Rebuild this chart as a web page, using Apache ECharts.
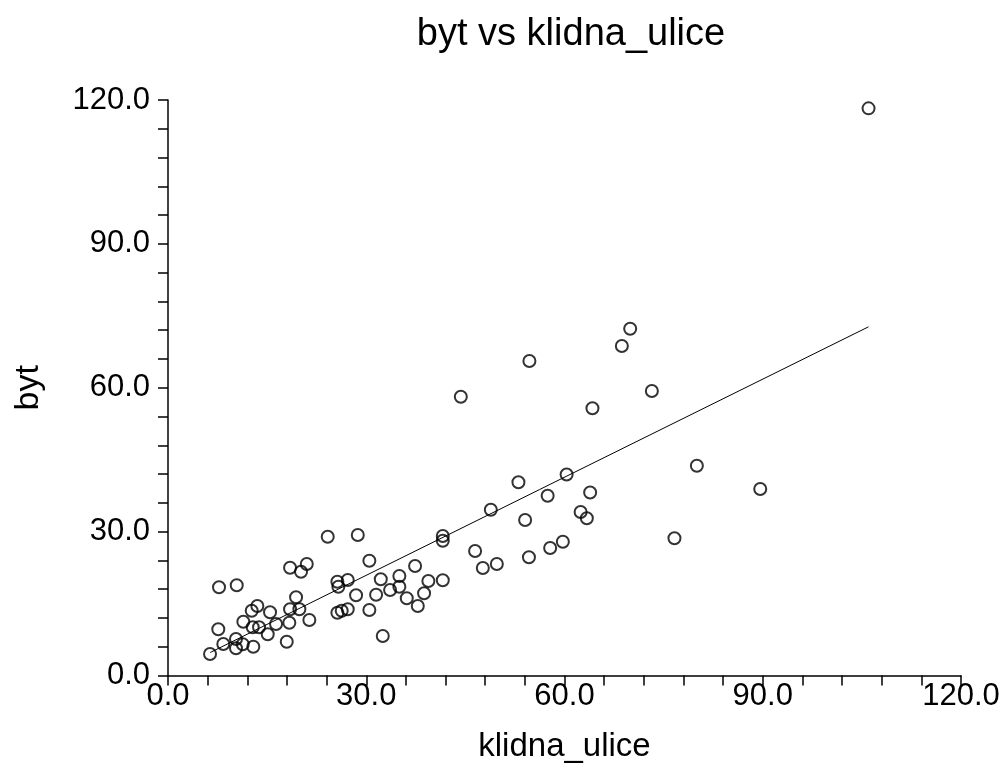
<!DOCTYPE html>
<html>
<head>
<meta charset="utf-8">
<script src="https://cdn.jsdelivr.net/npm/echarts@6/dist/echarts.min.js"></script>
<style>
html,body{margin:0;padding:0;background:#fff;}
#chart{width:1002px;height:771px;}
</style>
</head>
<body>
<div id="chart"></div>
<script>
// klidna_ulice (x) values
var klidnaUlice = [
  6.36, 7.61, 7.72, 8.37, 10.40, 10.29, 10.29, 11.31, 11.40, 12.67,
  13.52, 12.82, 12.91, 13.78, 15.09, 15.44, 16.35, 17.97, 18.36, 18.47,
  18.47, 19.38, 19.88, 20.13, 21.00, 21.39, 24.17, 25.63, 25.78, 25.63,
  26.29, 27.20, 27.20, 28.72, 28.46, 30.47, 30.47, 31.49, 32.20, 32.50,
  33.61, 35.01, 35.01, 36.13, 37.39, 37.80, 38.75, 39.40, 41.58, 41.58,
  41.58, 44.31, 54.69, 68.68, 69.94, 73.22, 64.23, 80.03, 89.62, 76.64,
  60.32, 53.03, 57.45, 63.88, 48.85, 62.44, 63.38, 54.04, 59.75, 57.83,
  46.47, 54.62, 49.76, 47.64, 106.01
];
// byt (y) values
var byt = [
  4.48, 9.63, 18.39, 6.57, 18.81, 7.61, 5.67, 6.51, 11.22, 13.51,
  14.49, 10.05, 6.00, 10.05, 8.59, 13.18, 10.74, 7.05, 11.01, 13.80,
  22.48, 16.31, 13.80, 21.64, 23.25, 11.57, 28.94, 19.56, 18.52, 13.09,
  13.51, 13.80, 19.91, 29.29, 16.72, 23.94, 13.66, 16.85, 20.06, 8.24,
  17.83, 20.75, 18.52, 16.10, 22.83, 14.49, 17.14, 19.70, 29.09, 28.11,
  19.85, 58.13, 65.57, 68.70, 72.31, 59.32, 55.71, 43.74, 38.89, 28.61,
  41.91, 40.30, 37.47, 38.16, 34.57, 34.09, 32.80, 32.42, 27.88, 26.58,
  25.96, 24.65, 23.25, 22.41, 118.26
];
// fitted line endpoints
var fitX = [6.4, 106.0];
var fitY = [4.8, 72.7];
var axisTicks = [0, 30, 60, 90, 120];

var points = klidnaUlice.map(function (x, i) { return [x, byt[i]]; });
var fitLine = fitX.map(function (x, i) { return [x, fitY[i]]; });

var font = '"Liberation Sans", Arial, Helvetica, sans-serif';
function labelFmt(v) {
  return axisTicks.indexOf(v) >= 0 ? v.toFixed(1) : '';
}

var chart = echarts.init(document.getElementById('chart'), null, {renderer: 'canvas'});
chart.setOption({
  backgroundColor: '#ffffff',
  animation: false,
  title: {
    text: 'byt vs klidna_ulice',
    left: 566, top: 11, textAlign: 'center',
    textStyle: {fontFamily: font, fontSize: 38, fontWeight: 'normal', color: '#000'}
  },
  grid: {left: 168, right: 41, top: 100, bottom: 95.5, containLabel: false, outerBoundsMode: 'none'},
  xAxis: {
    type: 'value', min: 0, max: 120, interval: 6,
    name: 'klidna_ulice', nameLocation: 'middle', nameGap: 55,
    nameTextStyle: {fontFamily: font, fontSize: 33, color: '#000'},
    axisLine: {show: true, lineStyle: {color: '#000', width: 1.5}},
    axisTick: {show: true, length: 10, inside: false, lineStyle: {color: '#000', width: 1.5}},
    axisLabel: {show: true, interval: 0, margin: 5, formatter: labelFmt, fontFamily: font, fontSize: 31, color: '#000', hideOverlap: false},
    splitLine: {show: false}
  },
  yAxis: {
    type: 'value', min: 0, max: 120, interval: 6,
    name: 'byt', nameLocation: 'middle', nameGap: 122, nameRotate: 90,
    nameTextStyle: {fontFamily: font, fontSize: 34, color: '#000'},
    axisLine: {show: true, lineStyle: {color: '#000', width: 1.5}},
    axisTick: {show: true, length: 10, inside: false, lineStyle: {color: '#000', width: 1.5}},
    axisLabel: {show: true, interval: 0, margin: 18, formatter: labelFmt, fontFamily: font, fontSize: 31, color: '#000', hideOverlap: false},
    splitLine: {show: false}
  },
  series: [
    {
      type: 'line', data: fitLine, symbol: 'none', silent: true,
      lineStyle: {color: '#000', width: 1}
    },
    {
      type: 'scatter', data: points, symbol: 'circle', symbolSize: 12,
      itemStyle: {color: 'rgba(255,255,255,0)', borderColor: '#000', borderWidth: 2}
    }
  ]
});
</script>
</body>
</html>
